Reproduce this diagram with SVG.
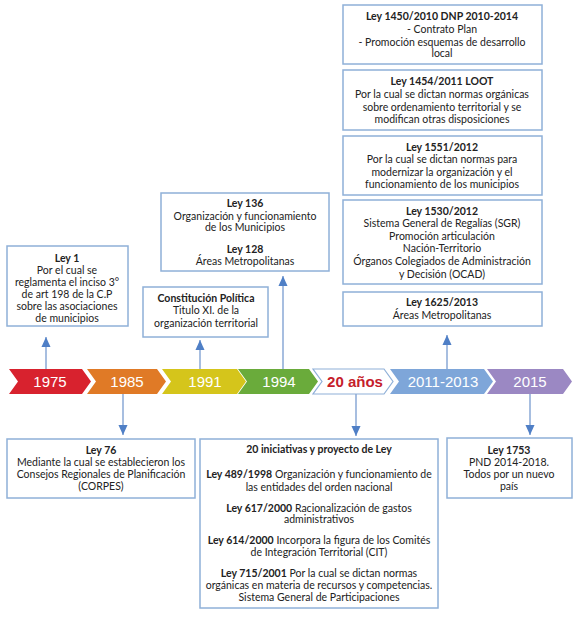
<svg xmlns="http://www.w3.org/2000/svg" width="583" height="617" viewBox="0 0 583 617">
<style>
.box{fill:#fff;stroke:#8fb0d8;stroke-width:1.5}
.t{font-family:Lato,"Liberation Sans",sans-serif;font-size:10.5px;fill:#222;text-anchor:middle}
.b{font-weight:bold}
.yr{font-family:"Liberation Sans",Arial,sans-serif;font-size:15px;fill:#fff;text-anchor:middle}
.con{stroke:#8aa9d6;stroke-width:1.5;fill:none}
</style>
<defs>
<marker id="ah" markerUnits="userSpaceOnUse" markerWidth="10" markerHeight="12" refX="11" refY="5" orient="auto" viewBox="0 0 11 10">
<path d="M0,0 L11,5 L0,10 Z" fill="#4f7fc6"/>
</marker>
</defs>
<rect width="583" height="617" fill="#fff"/>

<g id="timeline">
<g id="y1975"><polygon points="9,369 82,369 91,381.5 82,394 9,394 18,381.5" fill="#d8222e"/><text class="yr" x="50" y="387">1975</text></g>
<g id="y1985"><polygon points="87,369 157,369 166,381.5 157,394 87,394 96,381.5" fill="#e07a26"/><text class="yr" x="127" y="387">1985</text></g>
<g id="y1991"><polygon points="162,369 237,369 246,381.5 237,394 162,394 171,381.5" fill="#d5c51b"/><text class="yr" x="205" y="387">1991</text></g>
<g id="y1994"><polygon points="238,369 309,369 318,381.5 309,394 238,394 247,381.5" fill="#6aab3b"/><text class="yr" x="279" y="387">1994</text></g>
<g id="y20"><polygon points="313,369 384,369 393,381.5 384,394 313,394 322,381.5" fill="#fff" stroke="#8fb0d8" stroke-width="1.2"/><text class="yr" x="355" y="387" style="fill:#c5202b;font-weight:bold">20 años</text></g>
<g id="y2011"><polygon points="390,369 484,369 493,381.5 484,394 390,394 399,381.5" fill="#7ea6d9"/><text class="yr" x="443" y="387">2011-2013</text></g>
<g id="y2015"><polygon points="487,369 563,369 572,381.5 563,394 487,394 496,381.5" fill="#9b88c3"/><text class="yr" x="530" y="387">2015</text></g>
</g>

<g id="connectors">
<line class="con" x1="46" y1="369" x2="46" y2="337" marker-end="url(#ah)"/>
<line class="con" x1="200" y1="369" x2="200" y2="340" marker-end="url(#ah)"/>
<line class="con" x1="283" y1="369" x2="283" y2="276" marker-end="url(#ah)"/>
<line class="con" x1="447" y1="369" x2="447" y2="335" marker-end="url(#ah)"/>
<line class="con" x1="123" y1="394" x2="123" y2="435" marker-end="url(#ah)"/>
<line class="con" x1="356" y1="394" x2="356" y2="436" marker-end="url(#ah)"/>
<line class="con" x1="530" y1="394" x2="530" y2="435" marker-end="url(#ah)"/>
</g>

<g id="ley1">
<rect class="box" x="7" y="246" width="121" height="80"/>
<text class="t b" x="67" y="262">Ley 1</text>
<text class="t" x="67" y="274">Por el cual se</text>
<text class="t" x="67" y="286">reglamenta el inciso 3°</text>
<text class="t" x="67" y="298">de art 198 de la C.P</text>
<text class="t" x="67" y="310">sobre las asociaciones</text>
<text class="t" x="67" y="322">de municipios</text>
</g>

<g id="constitucion">
<rect class="box" x="143" y="287" width="125" height="50"/>
<text class="t b" x="206" y="302">Constitución Política</text>
<text class="t" x="206" y="314">Titulo XI. de la</text>
<text class="t" x="206" y="327">organización territorial</text>
</g>

<g id="ley136">
<rect class="box" x="161" y="193" width="168" height="78"/>
<text class="t b" x="245" y="207">Ley 136</text>
<text class="t" x="245" y="220">Organización y funcionamiento</text>
<text class="t" x="245" y="231">de los Municipios</text>
<text class="t b" x="245" y="253">Ley 128</text>
<text class="t" x="245" y="265">Áreas Metropolitanas</text>
</g>

<g id="ley1450">
<rect class="box" x="343" y="5" width="199" height="59"/>
<text class="t b" x="442" y="20">Ley 1450/2010 DNP 2010-2014</text>
<text class="t" x="442" y="33">- Contrato Plan</text>
<text class="t" x="442" y="46">- Promoción esquemas de desarrollo</text>
<text class="t" x="442" y="57">local</text>
</g>

<g id="ley1454">
<rect class="box" x="343" y="70" width="199" height="60"/>
<text class="t b" x="442" y="85">Ley 1454/2011 LOOT</text>
<text class="t" x="442" y="98">Por la cual se dictan normas orgánicas</text>
<text class="t" x="442" y="111">sobre ordenamiento territorial y se</text>
<text class="t" x="442" y="123">modifican otras disposiciones</text>
</g>

<g id="ley1551">
<rect class="box" x="343" y="136" width="199" height="59"/>
<text class="t b" x="442" y="151">Ley 1551/2012</text>
<text class="t" x="442" y="163">Por la cual se dictan normas para</text>
<text class="t" x="442" y="176">modernizar la organización y el</text>
<text class="t" x="442" y="188">funcionamiento de los municipios</text>
</g>

<g id="ley1530">
<rect class="box" x="343" y="200" width="199" height="84"/>
<text class="t b" x="442" y="215">Ley 1530/2012</text>
<text class="t" x="442" y="227">Sistema General de Regalías (SGR)</text>
<text class="t" x="442" y="240">Promoción articulación</text>
<text class="t" x="442" y="252">Nación-Territorio</text>
<text class="t" x="442" y="265">Órganos Colegiados de Administración</text>
<text class="t" x="442" y="278">y Decisión (OCAD)</text>
</g>

<g id="ley1625">
<rect class="box" x="343" y="292" width="199" height="34"/>
<text class="t b" x="442" y="306">Ley 1625/2013</text>
<text class="t" x="442" y="319">Áreas Metropolitanas</text>
</g>

<g id="ley76">
<rect class="box" x="7" y="439" width="188" height="59"/>
<text class="t b" x="101" y="454">Ley 76</text>
<text class="t" x="101" y="466">Mediante la cual se establecieron los</text>
<text class="t" x="101" y="478">Consejos Regionales de Planificación</text>
<text class="t" x="101" y="490">(CORPES)</text>
</g>

<g id="iniciativas">
<rect class="box" x="200" y="439" width="238" height="169"/>
<text class="t b" x="319" y="453">20 iniciativas y proyecto de Ley</text>
<text class="t" x="319" y="478"><tspan class="b">Ley 489/1998</tspan> Organización y funcionamiento de</text>
<text class="t" x="319" y="491">las entidades del orden nacional</text>
<text class="t" x="319" y="512"><tspan class="b">Ley 617/2000</tspan> Racionalización de gastos</text>
<text class="t" x="319" y="523">administrativos</text>
<text class="t" x="319" y="544"><tspan class="b">Ley 614/2000</tspan>  Incorpora la figura de los Comités</text>
<text class="t" x="319" y="556">de Integración Territorial (CIT)</text>
<text class="t" x="319" y="577"><tspan class="b">Ley 715/2001</tspan> Por la cual se dictan normas</text>
<text class="t" x="319" y="589">orgánicas en materia de recursos y competencias.</text>
<text class="t" x="319" y="601">Sistema General de Participaciones</text>
</g>

<g id="ley1753">
<rect class="box" x="447" y="438" width="125" height="60"/>
<text class="t b" x="509" y="454">Ley 1753</text>
<text class="t" x="509" y="466">PND 2014-2018.</text>
<text class="t" x="509" y="478">Todos por un nuevo</text>
<text class="t" x="509" y="490">país</text>
</g>
</svg>
